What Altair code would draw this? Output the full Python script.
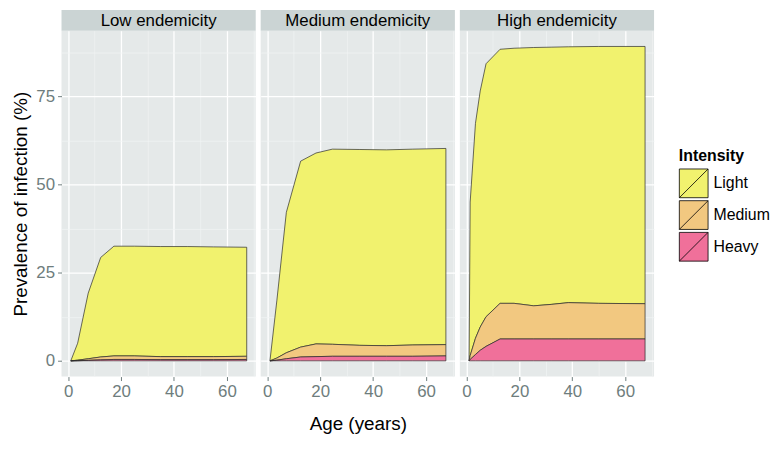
import altair as alt
import pandas as pd

panels = ["Low endemicity", "Medium endemicity", "High endemicity"]
bands = ["Light", "Medium", "Heavy"]
band_colors = ["#F1F26E", "#F2C880", "#F0709A"]

# Low endemicity: upper edges of the stacked bands (total, medium+heavy, heavy)
low_age = [1.0, 3.6, 7.6, 12.3, 17.3, 25, 35, 45, 55, 67.5]
low_total = [0, 5.0, 19.2, 29.3, 32.5, 32.5, 32.4, 32.4, 32.3, 32.2]
low_medheavy = [0, 0.2, 0.6, 1.1, 1.4, 1.4, 1.2, 1.2, 1.2, 1.3]
low_heavy = [0, 0.05, 0.15, 0.3, 0.4, 0.4, 0.35, 0.35, 0.35, 0.4]

# Medium endemicity
med_age = [1.0, 3.6, 7.2, 12.6, 18.4, 24.6, 35, 45, 55, 67.5]
med_total = [0, 17.0, 42.1, 56.6, 58.9, 60.0, 59.9, 59.8, 60.0, 60.2]
med_medheavy = [0, 0.8, 2.3, 3.9, 4.8, 4.7, 4.4, 4.3, 4.5, 4.6]
med_heavy = [0, 0.2, 0.6, 1.1, 1.2, 1.3, 1.3, 1.3, 1.3, 1.4]

# High endemicity
high_age = [1.0, 1.4, 3.4, 5.2, 7.4, 12.7, 18, 25.4, 32, 38.5, 50, 67.5]
high_total = [0, 45.0, 67.3, 76.5, 84.2, 88.3, 88.6, 88.8, 88.9, 89.0, 89.1, 89.1]
high_medheavy = [0, 1.5, 6.4, 9.6, 12.5, 16.3, 16.3, 15.6, 16.0, 16.5, 16.3, 16.2]
high_heavy = [0, 0.4, 1.8, 3.0, 4.1, 6.2, 6.2, 6.2, 6.2, 6.2, 6.2, 6.2]

x_ticks = [0, 10, 20, 30, 40, 50, 60, 70]
y_ticks = [0, 12.5, 25, 37.5, 50, 62.5, 75, 87.5]

series = {
    "Low endemicity": (low_age, low_total, low_medheavy, low_heavy),
    "Medium endemicity": (med_age, med_total, med_medheavy, med_heavy),
    "High endemicity": (high_age, high_total, high_medheavy, high_heavy),
}

W, H = 196, 349
STRIP = 21
FONT = "Liberation Sans"
LABEL_GRAY = "#6E7D7D"
MINOR = "#F1F4F4"

xs = alt.Scale(domain=[-2.5, 70.9], nice=False, zero=False)
ys = alt.Scale(domain=[-4.45, 93.55], nice=False, zero=False)


def band_rows(name):
    age, total, mh, hv = series[name]
    rows = []
    for i, a in enumerate(age):
        rows.append({"panel": name, "age": a, "band": "Light", "top": total[i], "bottom": mh[i]})
        rows.append({"panel": name, "age": a, "band": "Medium", "top": mh[i], "bottom": hv[i]})
        rows.append({"panel": name, "age": a, "band": "Heavy", "top": hv[i], "bottom": 0})
    return pd.DataFrame(rows)


def make_panel(idx, name):
    first = idx == 0
    middle = idx == 1
    xaxis = alt.Axis(
        values=x_ticks,
        title="Age (years)" if middle else None,
        labelExpr="datum.value % 20 === 0 ? datum.label : ''",
        gridColor=alt.condition("datum.value % 20 === 0", alt.value("#FFFFFF"), alt.value(MINOR)),
        gridWidth=alt.condition("datum.value % 20 === 0", alt.value(1.3), alt.value(0.7)),
        tickOpacity=alt.condition("datum.value % 20 === 0", alt.value(1), alt.value(0)),
    )
    yaxis = alt.Axis(
        values=y_ticks,
        title="Prevalence of infection (%)" if first else None,
        labels=first,
        ticks=first,
        labelExpr="datum.value % 25 === 0 ? datum.label : ''",
        gridColor=alt.condition("datum.value % 25 === 0", alt.value("#FFFFFF"), alt.value(MINOR)),
        gridWidth=alt.condition("datum.value % 25 === 0", alt.value(1.3), alt.value(0.7)),
        tickOpacity=alt.condition("datum.value % 25 === 0", alt.value(1), alt.value(0)),
    )
    area = alt.Chart(band_rows(name)).mark_area(
        stroke="#2A2A2A", strokeWidth=0.7, opacity=1
    ).encode(
        x=alt.X("age:Q", scale=xs, axis=xaxis),
        y=alt.Y("top:Q", scale=ys, axis=yaxis),
        y2="bottom:Q",
        color=alt.Color(
            "band:N",
            scale=alt.Scale(domain=bands, range=band_colors),
            legend=alt.Legend(title="Intensity"),
        ),
    )
    strip_df = pd.DataFrame({"panel": [name]})
    strip_rect = alt.Chart(strip_df).mark_rect(color="#CBD4D4").encode(
        x=alt.value(0), x2=alt.value(W), y=alt.value(-STRIP), y2=alt.value(0)
    )
    strip_text = alt.Chart(strip_df).mark_text(
        font=FONT, fontSize=17, color="#000000", baseline="middle", align="center"
    ).encode(text="panel:N", x=alt.value(W / 2), y=alt.value(-STRIP / 2 + 0.5))
    return alt.layer(area, strip_rect, strip_text).properties(width=W, height=H)


chart = alt.hconcat(
    *[make_panel(i, p) for i, p in enumerate(panels)], spacing=5
).resolve_scale(color="shared").properties(
    padding={"left": 4, "top": 0, "right": 0, "bottom": 0}
).configure(font=FONT).configure_view(
    fill="#E5E9E9", stroke=None
).configure_axis(
    domain=False,
    tickColor=LABEL_GRAY,
    tickSize=4,
    labelColor=LABEL_GRAY,
    labelFontSize=17,
    labelFont=FONT,
    labelPadding=3,
    titleFont=FONT,
    titleFontSize=19,
    titleFontWeight="normal",
    titleColor="#000000",
).configure_axisX(
    titlePadding=15,
).configure_axisY(
    titlePadding=5,
).configure_legend(
    orient="none",
    legendX=623,
    legendY=118,
    titleFont=FONT,
    titleFontSize=16,
    titleFontWeight="bold",
    titleColor="#000000",
    titlePadding=5,
    labelFont=FONT,
    labelFontSize=16,
    labelColor="#000000",
    labelOffset=5,
    symbolType="M-1,-1H1V1H-1Z M-1,1L1,-1",
    symbolSize=841,
    symbolStrokeColor="#000000",
    symbolStrokeWidth=0.8,
    symbolOpacity=1,
    rowPadding=-5,
)

chart.save("out.html", embed_options={"renderer": "svg", "actions": False})
